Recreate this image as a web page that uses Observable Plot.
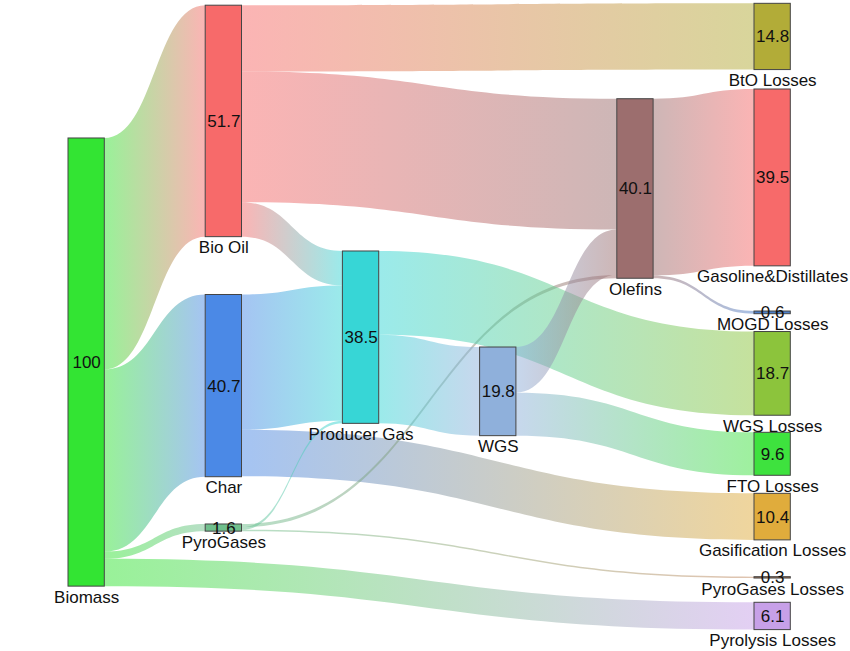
<!DOCTYPE html>
<html><head><meta charset="utf-8">
<script src="https://cdn.jsdelivr.net/npm/d3@7"></script>
<script src="https://cdn.jsdelivr.net/npm/@observablehq/plot@0.6"></script>
<style>body{margin:0;background:#fff;overflow:hidden;}</style>
</head><body><div id="chart"></div>
<script>
// ---- data ----
const nodeNames = ["Biomass","Bio Oil","Char","PyroGases","Producer Gas","WGS","Olefins",
  "BtO Losses","Gasoline&Distillates","MOGD Losses","WGS Losses","FTO Losses",
  "Gasification Losses","PyroGases Losses","Pyrolysis Losses"];
const nodeValueLabels = ["100","51.7","40.7","1.6","38.5","19.8","40.1","14.8","39.5","0.6","18.7","9.6","10.4","0.3","6.1"];
const linkSource = ["Biomass","Biomass","Biomass","Biomass","Bio Oil","Bio Oil","Bio Oil","Char","Char",
  "PyroGases","PyroGases","PyroGases","Producer Gas","Producer Gas","WGS","WGS","Olefins","Olefins"];
const linkTarget = ["Bio Oil","Char","PyroGases","Pyrolysis Losses","BtO Losses","Olefins","Producer Gas",
  "Producer Gas","Gasification Losses","Olefins","Producer Gas","PyroGases Losses","WGS Losses","WGS",
  "Olefins","FTO Losses","Gasoline&Distillates","MOGD Losses"];
const linkValue = [51.7,40.7,1.6,6.1,14.8,29.2,7.7,30.2,10.4,0.7,0.6,0.3,18.7,19.8,10.2,9.6,39.5,0.6];

// ---- layout (node column and top position, in flow units) ----
const nodeColumn = [0,1,1,1,2,3,4,5,5,5,5,5,5,5,5];
const nodeTop = [30.82,1.16,65.78,117.04,56.06,77.51,22.05,0.74,19.88,69.47,74.05,96.56,110.19,128.81,134.53];
const nodeColors = ["#33e433","#f76a6a","#4b89e6","#6fbf8c","#37d6d6","#8fb0db","#9c6e6e",
  "#b2ac38","#f76a6a","#5080c8","#8cc43c","#3ee23e","#e0ac3c","#c08860","#c7a0e8"];
const nodeWidth = 36.3 / 137.2;
const pxPerUnit = 4.477;
const W = 850, H = 651;

const idx = new Map(nodeNames.map((n, i) => [n, i]));
const links = linkSource.map((s, i) => ({i, s: idx.get(s), t: idx.get(linkTarget[i]), v: linkValue[i]}));
const inSum = nodeNames.map(() => 0), outSum = nodeNames.map(() => 0);
links.forEach(l => { outSum[l.s] += l.v; inSum[l.t] += l.v; });
const size = nodeNames.map((_, i) => Math.max(inSum[i], outSum[i]));
const center = i => nodeTop[i] + size[i] / 2;
nodeNames.forEach((_, n) => {
  let y = nodeTop[n];
  links.filter(l => l.s === n).sort((a, b) => center(a.t) - center(b.t))
    .forEach(l => { l.sy0 = y; y += l.v; l.sy1 = y; });
  y = nodeTop[n];
  links.filter(l => l.t === n).sort((a, b) => center(a.s) - center(b.s))
    .forEach(l => { l.ty0 = y; y += l.v; l.ty1 = y; });
});

const areaData = links.flatMap(l => [
  {link: l.i, x: nodeColumn[l.s] + nodeWidth, y1: l.sy0, y2: l.sy1},
  {link: l.i, x: nodeColumn[l.t], y1: l.ty0, y2: l.ty1}
]);
const nodeData = nodeNames.map((name, i) => ({
  name, label: nodeValueLabels[i], color: nodeColors[i],
  x1: nodeColumn[i], x2: nodeColumn[i] + nodeWidth, cx: nodeColumn[i] + nodeWidth / 2,
  y1: nodeTop[i], y2: nodeTop[i] + size[i], cy: nodeTop[i] + size[i] / 2
}));

const plot = Plot.plot({
  width: W, height: H,
  marginTop: 0, marginRight: 0, marginBottom: 0, marginLeft: 0,
  style: {fontFamily: "'Liberation Sans', Arial, sans-serif", fontSize: "17px", background: "#fff"},
  x: {domain: [0, 5], range: [68, 754], axis: null},
  y: {domain: [0, H / pxPerUnit], range: [0, H], axis: null},
  color: {type: "identity"},
  marks: [
    Plot.area(areaData, {x1: "x", y1: "y1", y2: "y2", z: "link", curve: "bump-x",
      fill: d => `url(#lg${d.link})`, fillOpacity: 0.5}),
    Plot.rect(nodeData, {x1: "x1", x2: "x2", y1: "y1", y2: "y2", fill: "color", stroke: "#444", strokeWidth: 1}),
    Plot.text(nodeData, {x: "cx", y: "cy", text: "label", fill: "#111", fontSize: 17}),
    Plot.text(nodeData, {x: "cx", y: "y2", text: "name", lineAnchor: "top", dy: 4, fill: "#111", fontSize: 17})
  ]
});

const defs = d3.select(plot).insert("defs", ":first-child");
links.forEach(l => {
  const g = defs.append("linearGradient").attr("id", "lg" + l.i)
    .attr("x1", "0").attr("x2", "1").attr("y1", "0").attr("y2", "0");
  g.append("stop").attr("offset", "0").attr("stop-color", nodeColors[l.s]);
  g.append("stop").attr("offset", "1").attr("stop-color", nodeColors[l.t]);
});
document.getElementById("chart").appendChild(plot);
</script>
</body></html>
